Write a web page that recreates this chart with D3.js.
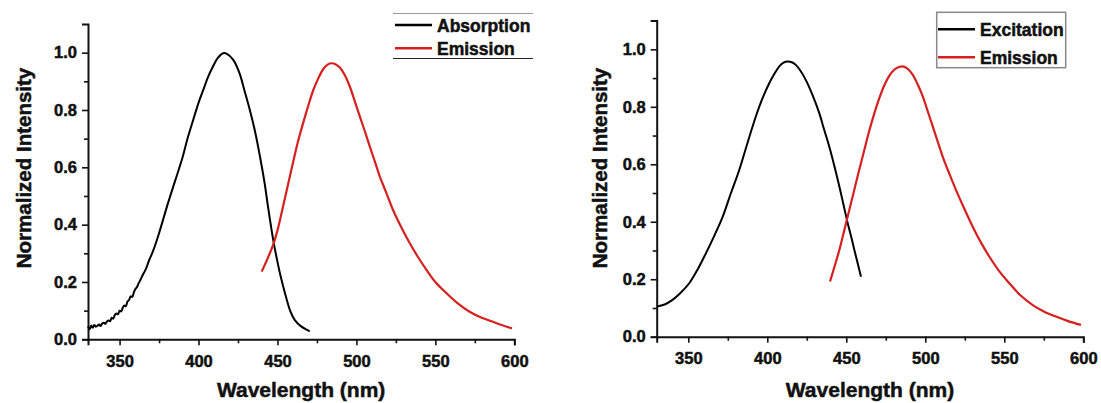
<!DOCTYPE html>
<html>
<head>
<meta charset="utf-8">
<script src="https://cdn.jsdelivr.net/npm/d3@7"></script>
<style>
  html, body { margin: 0; padding: 0; background: #fff; }
  svg text { font-family: Arial, "Liberation Sans", Helvetica, sans-serif; font-weight: bold; fill: #111; }
</style>
</head>
<body>
<svg id="chart" width="1101" height="403"></svg>
<script>
// ---- data ----
// left panel: absorption (black) and emission (red)
var absorption = [
  [330,0.045],[331,0.035],[332,0.048],[333,0.040],[334,0.050],[335,0.044],[336,0.047],[337,0.052],
  [338,0.046],[339,0.055],[340,0.058],[341,0.054],[342,0.062],[343,0.066],[344,0.063],[345,0.075],
  [346,0.072],[347,0.085],[348,0.090],[349,0.087],[350,0.100],[351,0.097],[352,0.110],[353,0.118],
  [354,0.115],[355,0.132],[356,0.137],[357,0.150],[358,0.148],[359,0.163],[360,0.175],[361,0.182],
  [362,0.195],[363,0.205],[364,0.217],[365,0.228],[366,0.238],[367,0.250],[368,0.265],[369,0.280],
  [370,0.292],[372,0.320],[375,0.370],[380,0.463],[385,0.550],[390,0.637],[393,0.700],[396.6,0.765],
  [400,0.825],[403,0.870],[406,0.915],[409,0.950],[412,0.980],[415.6,0.998],[418,0.996],[422,0.975],
  [426,0.928],[429,0.870],[432.5,0.800],[436,0.720],[439,0.635],[442,0.540],[444,0.463],[447.3,0.347],
  [450,0.270],[452,0.220],[455.8,0.140],[458,0.100],[461,0.067],[465,0.045],[470.5,0.028]
];
var emissionLeft = [
  [440,0.236],[444,0.285],[447.3,0.330],[450,0.380],[453.6,0.465],[456.7,0.540],[460,0.620],
  [463,0.690],[466.3,0.755],[469.5,0.815],[472.6,0.868],[476,0.912],[479,0.943],[482,0.959],
  [484.2,0.963],[487,0.959],[489.5,0.948],[492.6,0.922],[495.8,0.882],[499,0.830],[502.2,0.777],
  [505.4,0.725],[508.5,0.672],[511.7,0.620],[514.8,0.568],[519,0.510],[523.2,0.451],[528.5,0.390],
  [533.8,0.335],[539,0.287],[544.4,0.242],[550,0.200],[557,0.161],[564,0.126],[571.7,0.096],
  [579,0.076],[586.5,0.061],[592,0.050],[598.5,0.038]
];
// right panel: excitation (black) and emission (red)
var excitation = [
  [330,0.105],[335,0.112],[340,0.128],[345,0.152],[350.6,0.186],[356,0.235],[361.2,0.291],
  [366.5,0.352],[371.8,0.418],[377,0.500],[382.3,0.581],[387.5,0.675],[392.8,0.767],[397,0.830],
  [401.3,0.883],[404.5,0.915],[407.6,0.941],[410.3,0.954],[412.9,0.958],[415.5,0.955],[418.2,0.945],
  [421.3,0.923],[424.5,0.892],[428.7,0.840],[432.9,0.778],[436,0.720],[439.2,0.662],[442.4,0.595],
  [445.6,0.523],[448.2,0.460],[450.9,0.395],[453,0.350],[455.1,0.302],[459.3,0.209]
];
var emissionRight = [
  [439.7,0.192],[442.6,0.245],[445.6,0.302],[448.7,0.370],[451.9,0.441],[455,0.510],[458.2,0.581],
  [461.4,0.650],[464.6,0.718],[467.8,0.778],[470.9,0.830],[474,0.874],[477.2,0.908],[481,0.932],
  [485.3,0.941],[488.5,0.934],[492,0.912],[495,0.880],[498.4,0.836],[501.5,0.785],[504.7,0.732],
  [507.8,0.680],[511,0.627],[515,0.570],[519.4,0.511],[524.7,0.445],[530,0.383],[535,0.330],
  [540.5,0.279],[546.5,0.230],[553.2,0.186],[560,0.145],[568,0.110],[575,0.088],[582.7,0.070],
  [590,0.055],[598.5,0.041]
];

var xTicks = [350, 400, 450, 500, 550, 600];
var xMinorTicks = [375, 425, 475, 525, 575];
var yTicks = [0, 0.2, 0.4, 0.6, 0.8, 1.0];
var yMinorTicks = [0.1, 0.3, 0.5, 0.7, 0.9];
var leftLegend = ["Absorption", "Emission"];
var rightLegend = ["Excitation", "Emission"];

var RED = "#d61f1f";
var FONT = "Arial, 'Liberation Sans', Helvetica, sans-serif";
var svg = d3.select("#chart");

// heavy bold look of the original figure text
function heavy(sel, size) {
  sel.attr("font-family", FONT).attr("font-weight", "bold").attr("font-size", size)
    .attr("fill", "#111").attr("stroke", "#111").attr("stroke-width", 0.5)
    .style("font-family", FONT).style("font-weight", "bold");
  return sel;
}

function drawPanel(p) {
  var x = d3.scaleLinear().domain([330, 600]).range([p.x0, p.x1]);
  var y = d3.scaleLinear().domain([0, 1.1]).range([p.y0, p.y1]);
  var g = svg.append("g");

  // axes
  var xAxis = d3.axisBottom(x).tickValues(xTicks).tickSize(6).tickPadding(4).tickFormat(d3.format("d"));
  var yAxis = d3.axisLeft(y).tickValues(yTicks).tickSize(6).tickPadding(5).tickFormat(d3.format(".1f"));
  var gx = g.append("g").attr("transform", "translate(0," + p.y0 + ")").call(xAxis);
  var gy = g.append("g").attr("transform", "translate(" + p.x0 + ",0)").call(yAxis);
  g.append("g").attr("transform", "translate(0," + p.y0 + ")")
    .call(d3.axisBottom(x).tickValues(xMinorTicks).tickSize(4).tickFormat(""))
    .select(".domain").remove();
  g.append("g").attr("transform", "translate(" + p.x0 + ",0)")
    .call(d3.axisLeft(y).tickValues(yMinorTicks).tickSize(4).tickFormat(""))
    .select(".domain").remove();

  g.selectAll(".domain").attr("stroke", "#111").attr("stroke-width", 2);
  g.selectAll(".tick line").attr("stroke", "#111").attr("stroke-width", 1.6);
  heavy(gx.selectAll(".tick text"), "16.5px").attr("dy", "1.05em");
  heavy(gy.selectAll(".tick text"), "16.5px");

  // lines
  var line = d3.line().x(function(d){ return x(d[0]); }).y(function(d){ return y(d[1]); })
    .curve(d3.curveCatmullRom.alpha(0.5));
  g.append("path").datum(p.black).attr("d", line)
    .attr("fill", "none").attr("stroke", "#000").attr("stroke-width", 2)
    .attr("stroke-linejoin", "round");
  g.append("path").datum(p.red).attr("d", line)
    .attr("fill", "none").attr("stroke", RED).attr("stroke-width", 2.2)
    .attr("stroke-linejoin", "round");

  // axis titles
  heavy(g.append("text"), "20.5px")
    .attr("transform", "translate(" + p.ylabX + ",168) rotate(-90)")
    .attr("text-anchor", "middle")
    .text("Normalized Intensity");
  heavy(g.append("text"), "21px")
    .attr("x", (p.x0 + p.x1) / 2).attr("y", 397)
    .attr("text-anchor", "middle")
    .text("Wavelength (nm)");

  // legend
  var lg = g.append("g");
  if (p.legendBox) {
    lg.append("rect").attr("x", p.lgX).attr("y", p.lgY).attr("width", p.lgW).attr("height", p.lgH)
      .attr("fill", "#fff").attr("stroke", "#888").attr("stroke-width", 1.5);
  } else {
    lg.append("line").attr("x1", p.lgX).attr("x2", p.lgX + p.lgW).attr("y1", p.lgY).attr("y2", p.lgY)
      .attr("stroke", "#999").attr("stroke-width", 1.2);
    lg.append("line").attr("x1", p.lgX).attr("x2", p.lgX + p.lgW).attr("y1", p.lgY + p.lgH).attr("y2", p.lgY + p.lgH)
      .attr("stroke", "#222").attr("stroke-width", 1.2);
  }
  var colors = ["#000", RED];
  p.legend.forEach(function(name, i) {
    var ly = p.lgRows[i];
    lg.append("line").attr("x1", p.lgLineX).attr("x2", p.lgLineX + 37)
      .attr("y1", ly).attr("y2", ly).attr("stroke", colors[i]).attr("stroke-width", 2.5);
    heavy(lg.append("text"), "17.5px").attr("x", p.lgLineX + 42).attr("y", ly + 6.5).text(name);
  });
}

drawPanel({
  x0: 88, x1: 514.3, y0: 339.3, y1: 24,
  black: absorption, red: emissionLeft,
  ylabX: 30.5,
  legendBox: false, lgX: 393, lgY: 13.5, lgW: 140, lgH: 45,
  lgLineX: 395, lgRows: [25, 48.3], legend: leftLegend
});
drawPanel({
  x0: 656.7, x1: 1083.3, y0: 336.7, y1: 20.6,
  black: excitation, red: emissionRight,
  ylabX: 607,
  legendBox: true, lgX: 936.7, lgY: 12.3, lgW: 129, lgH: 55.4,
  lgLineX: 938, lgRows: [29.3, 57.3], legend: rightLegend
});
</script>
</body>
</html>
